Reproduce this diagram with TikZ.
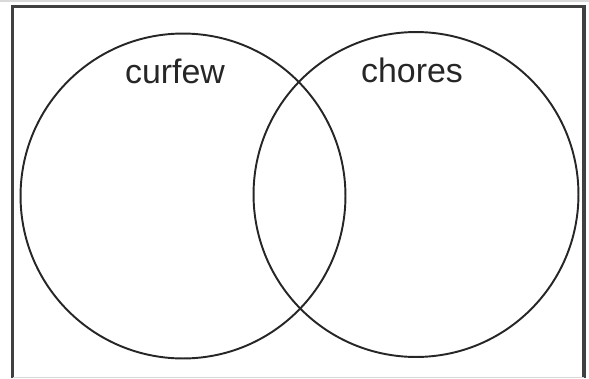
\documentclass[tikz,border=0pt]{standalone}
\usepackage{fontspec}
\setmainfont{Liberation Sans}
\usepackage{tikz}

\begin{document}
\begin{tikzpicture}[x=0.02cm, y=-0.02cm, font=\fontsize{19.3}{23}\selectfont,
  setcircle/.style={circle, draw=black!85, line width=1.1pt, inner sep=0pt, minimum size=6.5cm},
  setlabel/.style={anchor=base, text=black!85}]
\useasboundingbox (0,0) rectangle (589,379);
% frame
\draw[black!75, line width=1.8pt] (12.5,378) -- (12.5,6.5) -- (584,6.5) -- (584,378);
\draw[black!15, line width=1pt] (0,1) -- (589,1);
\draw[black!15, line width=1pt] (12.5,377.5) -- (584,377.5);
% the two sets
\node[setcircle] (curfewset) at (183,196) {};
\node[setcircle] (choresset) at (416,194.5) {};
% labels
\node[setlabel] (curfewlabel) at (175,83) {curfew};
\node[setlabel] (choreslabel) at (412,82) {chores};
\end{tikzpicture}
\end{document}
